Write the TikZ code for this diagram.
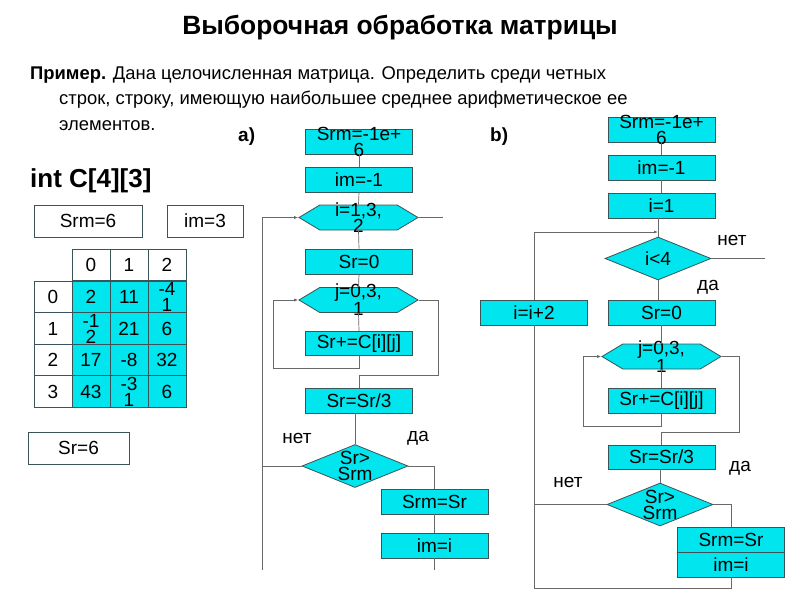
\documentclass[tikz,border=0pt]{standalone}
\usepackage{fontspec}
\setmainfont{Liberation Sans}
\usepackage{tikz}
\usetikzlibrary{shapes.geometric,shapes.symbols,arrows.meta}
\definecolor{boxfill}{RGB}{0,229,238}
\definecolor{boxline}{RGB}{58,84,88}
\definecolor{wire}{RGB}{105,105,105}
\tikzset{
  font={\fontsize{19}{16}\selectfont},
  blk/.style={draw=boxline,fill=boxfill,line width=0.8pt,minimum width=107,minimum height=25},
  wbox/.style={draw=boxline,fill=white,line width=0.8pt,minimum height=32},
  cell/.style={draw=boxline,line width=0.8pt,minimum width=38,minimum height=31.5},
  dcell/.style={cell,fill=boxfill},
  hexa/.style={signal,signal to=east and west,signal pointer angle=62,draw=boxline,fill=boxfill,line width=0.8pt,minimum width=119,minimum height=25,inner sep=0pt},
  decide/.style={diamond,draw=boxline,fill=boxfill,line width=0.8pt,minimum width=106,minimum height=43,inner sep=0pt},
  two/.style={label={[align=center,inner sep=0pt]center:#1}},
  para/.style={anchor=base west,inner sep=0pt,font={\fontsize{18.4}{22}\selectfont}},
  wire/.style={draw=wire,line width=0.7pt},
  tip/.style={wire,-{Latex[length=4pt,width=3pt]}}}

\begin{document}
\begin{tikzpicture}[x=1pt,y=-1pt]
\useasboundingbox (0,0) rectangle (800,600);
\node (title) at (400,28) {\fontsize{26.4}{30}\selectfont\bfseries Выборочная обработка матрицы};
\node [para] (line1) at (30,79) {\textbf{Пример.} Дана целочисленная матрица. Определить среди четных};
\node [para] (line2) at (59,104) {строк, строку, имеющую наибольшее среднее арифметическое ее};
\node [para] (line3) at (59,130) {элементов.};
\node [anchor=base west,inner sep=0pt] (capa) at (238,141) {\bfseries a)};
\node [anchor=base west,inner sep=0pt] (capb) at (490,141) {\bfseries b)};
\node [anchor=base west,inner sep=0pt] (decl) at (30,187) {\fontsize{26}{30}\selectfont\bfseries int C[4][3]};
\node [wbox,minimum width=108] (srm) at (88,221) {Srm=6};
\node [wbox,minimum width=76] (imv) at (205,221) {im=3};
\node [wbox,minimum width=101] (srv) at (78.5,448) {Sr=6};
\node [cell] (h0) at (91,265) {0};
\node [cell] (h1) at (129,265) {1};
\node [cell] (h2) at (167,265) {2};
\node [cell] (r0) at (53,297) {0};
\node [cell] (r1) at (53,328.5) {1};
\node [cell] (r2) at (53,360) {2};
\node [cell] (r3) at (53,391.5) {3};
\node [dcell] (c00) at (91,297) {2};
\node [dcell] (c01) at (129,297) {11};
\node [dcell,two={-4\\1}] (c02) at (167,297) {};
\node [dcell,two={-1\\2}] (c10) at (91,328.5) {};
\node [dcell] (c11) at (129,328.5) {21};
\node [dcell] (c12) at (167,328.5) {6};
\node [dcell] (c20) at (91,360) {17};
\node [dcell] (c21) at (129,360) {-8};
\node [dcell] (c22) at (167,360) {32};
\node [dcell] (c30) at (91,391.5) {43};
\node [dcell,two={-3\\1}] (c31) at (129,391.5) {};
\node [dcell] (c32) at (167,391.5) {6};
\node [blk,two={Srm=-1e+\\6}] (a1) at (359,141.5) {};
\node [blk] (a2) at (359,179.5) {im=-1};
\node [hexa,two={i=1,3,\\2}] (a3) at (358.5,217.5) {};
\node [blk] (a4) at (359,261.5) {Sr=0};
\node [hexa,two={j=0,3,\\1}] (a5) at (358.5,300) {};
\node [blk,minimum height=24] (a6) at (359,343.5) {Sr+=C[i][j]};
\node [blk] (a7) at (359,400.5) {Sr=Sr/3};
\node [decide,two={Sr>\\Srm}] (a8) at (355,466) {};
\node [blk] (a9) at (434.5,501.5) {Srm=Sr};
\node [blk] (a10) at (434.5,545.5) {im=i};
\node (ano) at (297,438) {нет};
\node (ayes) at (418,438) {да};
\coordinate (ja) at (273,368);
\coordinate (jb) at (438,375);
\coordinate (ia) at (262,570);
\coordinate (ib) at (443,217.5);
\coordinate (ae) at (434.5,570);
\draw [wire] (a1.south) -- (a2.north);
\draw [wire] (a2.south) -- (a3.north);
\draw [wire] (a3.south) -- (a4.north);
\draw [wire] (a4.south) -- (a5.north);
\draw [wire] (a5.south) -- (a6.north);
\draw [tip] (a6.south) |- (ja) |- (a5.west);
\draw [wire] (a5.east) -| (jb) -| (a7.north);
\draw [wire] (a8.north |- a7.south) -- (a8.north);
\draw [wire] (a8.east) -| (a9.north);
\draw [wire] (a9.south) -- (a10.north);
\draw [wire] (a10.south) -- (ae);
\draw [tip] (ia) |- (a3.west);
\draw [wire] (a8.west) -- (a8.west -| ia);
\draw [wire] (a3.east) -- (ib);
\node [blk,two={Srm=-1e+\\6}] (b1) at (661.5,129.5) {};
\node [blk] (b2) at (661.5,167.5) {im=-1};
\node [blk] (b3) at (661.5,205.5) {i=1};
\node [decide] (b4) at (658,258.5) {i<4};
\node [blk] (b5) at (661.5,312.5) {Sr=0};
\node [hexa,two={j=0,3,\\1}] (b6) at (661.5,356.5) {};
\node [blk,minimum height=24] (b7) at (661.5,401) {Sr+=C[i][j]};
\node [blk,minimum height=24] (b8) at (661.5,457) {Sr=Sr/3};
\node [decide,two={Sr>\\Srm}] (b9) at (660,504.5) {};
\node [blk] (b10) at (731,539.5) {Srm=Sr};
\node [blk] (b11) at (731,564.5) {im=i};
\node [blk] (bi) at (534,312.5) {i=i+2};
\node (bno1) at (732,240) {нет};
\node (byes1) at (708,287) {да};
\node (byes2) at (740,468) {да};
\node (bno2) at (568,482) {нет};
\coordinate (bj) at (658,232);
\coordinate (bn) at (765,258.5);
\coordinate (ka) at (583,426);
\coordinate (kb) at (739,432);
\coordinate (bl) at (534,588);
\draw [wire] (b1.south) -- (b2.north);
\draw [wire] (b2.south) -- (b3.north);
\draw [wire] (b4.north |- b3.south) -- (b4.north);
\draw [tip] (bi.north) |- (bj);
\draw [wire] (b4.east) -- (bn);
\draw [wire] (b4.south) -- (b4.south |- b5.north);
\draw [wire] (b5.south) -- (b6.north);
\draw [wire] (b6.south) -- (b7.north);
\draw [tip] (b7.south) |- (ka) |- (b6.west);
\draw [wire] (b6.east) -| (kb) -| (b8.north);
\draw [wire] (b9.north |- b8.south) -- (b9.north);
\draw [wire] (b9.east) -| (b10.north);
\draw [wire] (b11.south) |- (bl);
\draw [wire] (bl) -- (bi.south);
\draw [wire] (b9.west) -- (b9.west -| bl);
\end{tikzpicture}
\end{document}
